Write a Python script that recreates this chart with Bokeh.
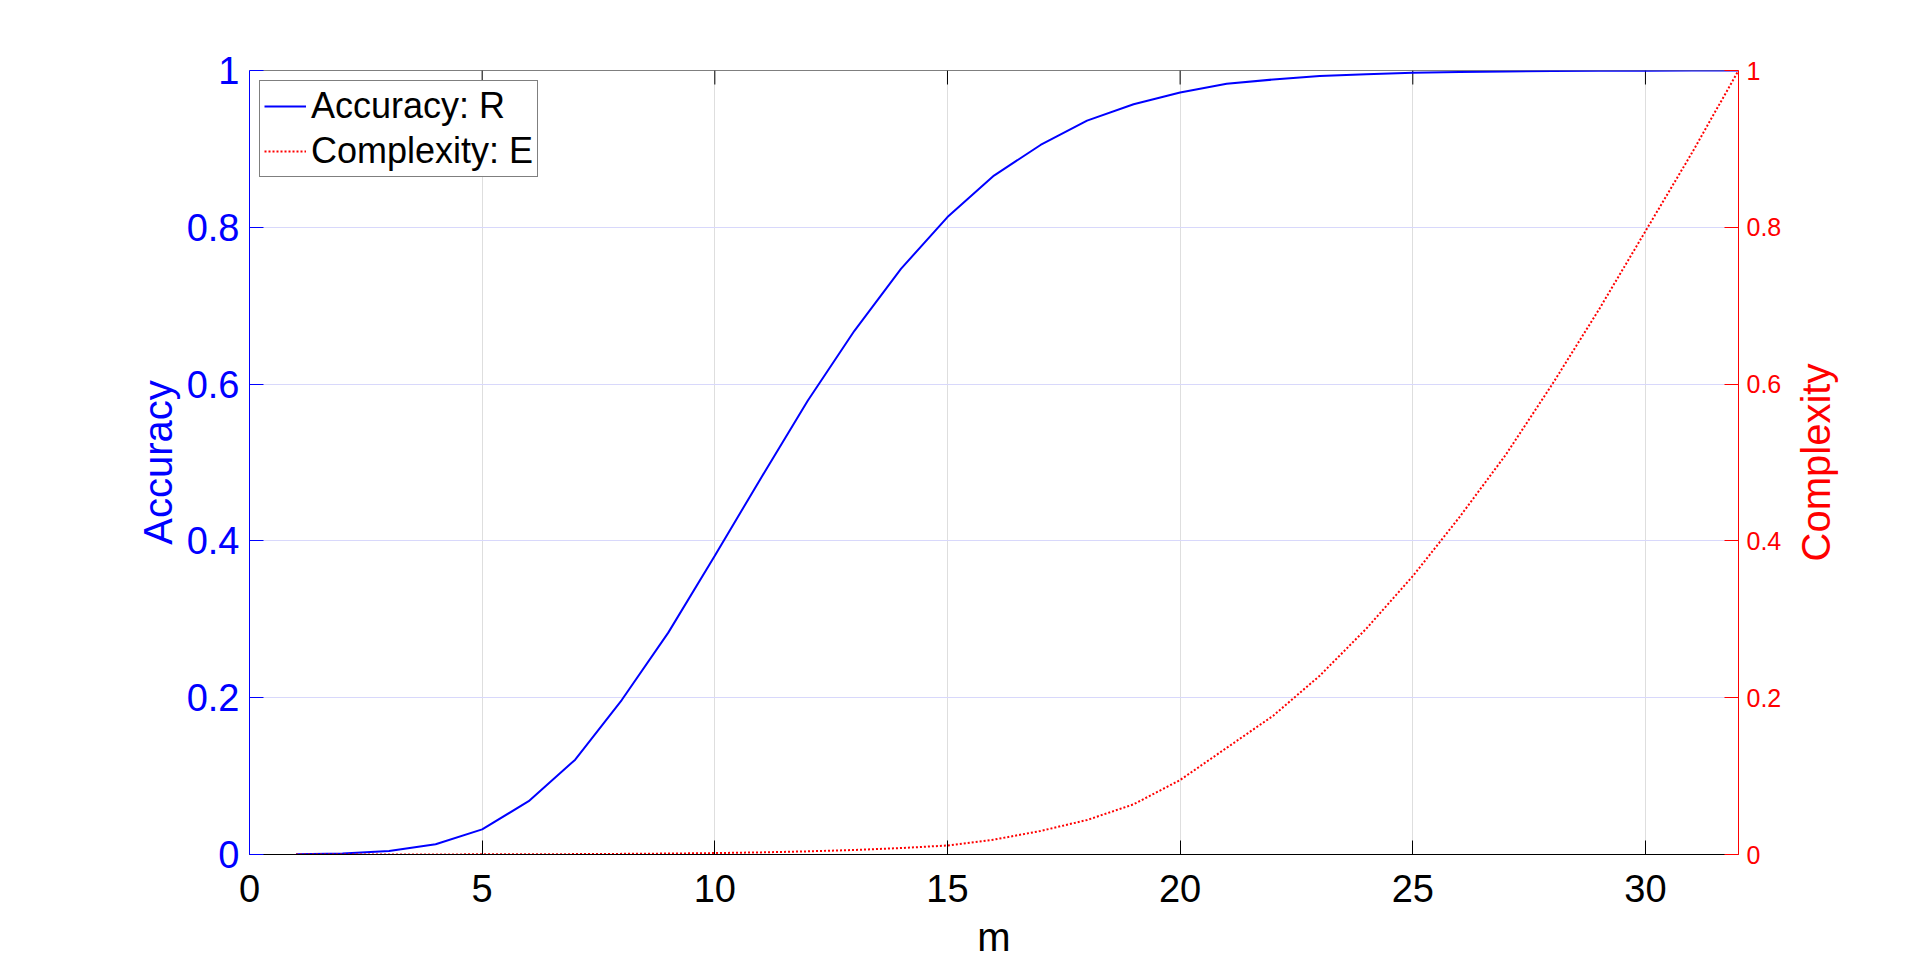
import math
from bokeh.plotting import figure
from bokeh.layouts import row
from bokeh.models import LinearAxis, Range1d, FixedTicker, Legend, LegendItem, Span
from bokeh.core.properties import value
from bokeh.embed import file_html
from bokeh.resources import INLINE

# ---- data ----
m = list(range(1, 33))
accuracy = [0.0002, 0.0013, 0.0045, 0.013, 0.032, 0.068, 0.121, 0.197, 0.283, 0.381,
            0.481, 0.579, 0.668, 0.747, 0.813, 0.866, 0.905, 0.936, 0.957, 0.972,
            0.983, 0.9885, 0.993, 0.9953, 0.997, 0.998, 0.9988, 0.9993, 0.9996, 0.9998,
            0.9999, 1.0]
complexity = [0.0, 0.0, 0.0001, 0.0001, 0.0002, 0.0003, 0.0005, 0.0008, 0.0012, 0.0018,
              0.0027, 0.004, 0.0058, 0.0082, 0.0115, 0.019, 0.03, 0.044, 0.064, 0.095,
              0.136, 0.177, 0.228, 0.288, 0.355, 0.43, 0.51, 0.60, 0.695, 0.795,
              0.895, 1.0]
x_ticks = [0, 5, 10, 15, 20, 25, 30]
y_ticks = [0, 0.2, 0.4, 0.6, 0.8, 1]
y_tick_labels = {0: "0", 1: "1"}
series_names = ["Accuracy: R", "Complexity: E"]
x_label = "m"
left_label = "Accuracy"
right_label = "Complexity"

FONT = "Liberation Sans"
BLUE = "#0000ff"
RED = "#ff0000"

H = 962
TOP, BOTTOM = 70, 108
W_MAIN, W_SIDE = 1790, 130

p = figure(width=W_MAIN, height=H, x_range=Range1d(0, 32), y_range=Range1d(0, 1),
           output_backend="svg", toolbar_location=None,
           min_border_left=249, min_border_right=52, min_border_top=TOP, min_border_bottom=BOTTOM)
p.outline_line_color = None
p.background_fill_color = "white"
p.border_fill_color = "white"
p.extra_y_ranges = {"comp": Range1d(0, 1)}

# grids
p.xgrid.ticker = FixedTicker(ticks=x_ticks)
p.xgrid.grid_line_color = "#dedede"
p.xgrid.grid_line_width = 1
p.ygrid.ticker = FixedTicker(ticks=y_ticks)
p.ygrid.grid_line_color = "#d8d8fb"
p.ygrid.grid_line_width = 1

# top border of the box, with inward ticks
p.add_layout(Span(location=y_ticks[-1], dimension="width", line_color="black",
                  line_width=1, level="underlay"))
top_ticks = [t for t in x_ticks if t > 0]
p.ray(x=top_ticks, y=[y_ticks[-1]] * len(top_ticks), length=14, length_units="screen",
      angle=-math.pi / 2, line_color="black", line_width=1)

# bottom axis
xa = p.xaxis[0]
xa.ticker = FixedTicker(ticks=x_ticks)
xa.axis_line_color = "black"
xa.major_tick_line_color = "black"
xa.major_tick_in = 14
xa.major_tick_out = 0
xa.minor_tick_line_color = None
xa.major_label_text_font = FONT
xa.major_label_text_font_size = "38px"
xa.major_label_text_color = "black"
xa.major_label_standoff = 20
xa.axis_label = x_label
xa.axis_label_text_font = FONT
xa.axis_label_text_font_size = "40px"
xa.axis_label_text_font_style = "normal"
xa.axis_label_text_color = "black"
xa.axis_label_standoff = 10

# left axis
ya = p.yaxis[0]
ya.ticker = FixedTicker(ticks=y_ticks)
ya.major_label_overrides = y_tick_labels
ya.axis_line_color = BLUE
ya.major_tick_line_color = BLUE
ya.major_tick_in = 14
ya.major_tick_out = 0
ya.minor_tick_line_color = None
ya.major_label_text_font = FONT
ya.major_label_text_font_size = "38px"
ya.major_label_text_color = BLUE
ya.major_label_standoff = 10
ya.axis_label = left_label
ya.axis_label_text_font = FONT
ya.axis_label_text_font_size = "40px"
ya.axis_label_text_font_style = "normal"
ya.axis_label_text_color = BLUE
ya.axis_label_standoff = 4

# right axis
ra = LinearAxis(y_range_name="comp", ticker=FixedTicker(ticks=y_ticks))
ra.major_label_overrides = y_tick_labels
ra.axis_line_color = RED
ra.major_tick_line_color = RED
ra.major_tick_in = 14
ra.major_tick_out = 0
ra.minor_tick_line_color = None
ra.major_label_text_font = FONT
ra.major_label_text_font_size = "25px"
ra.major_label_text_color = RED
ra.major_label_standoff = 8
p.add_layout(ra, "right")

# lines
r1 = p.line(m, accuracy, line_color=BLUE, line_width=2)
r2 = p.line(m, complexity, line_color=RED, line_width=2, line_dash="2 2", y_range_name="comp")

legend = Legend(items=[LegendItem(label=series_names[0], renderers=[r1]),
                       LegendItem(label=series_names[1], renderers=[r2])],
                location="top_left")
legend.margin = 10
legend.padding = 4
legend.spacing = 3
legend.glyph_width = 42
legend.glyph_height = 40
legend.label_standoff = 5
legend.label_text_font = FONT
legend.label_text_font_size = "36px"
legend.label_text_color = "black"
legend.border_line_color = "black"
legend.border_line_width = 1
legend.background_fill_color = "white"
legend.background_fill_alpha = 1
p.add_layout(legend)

# side panel carrying the right-hand axis title (reads bottom to top, like the left one)
side = figure(width=W_SIDE, height=H, x_range=Range1d(0, W_SIDE), y_range=Range1d(0, 1),
              output_backend="svg", toolbar_location=None,
              x_axis_location=None, y_axis_location=None,
              min_border_left=0, min_border_right=0, min_border_top=TOP, min_border_bottom=BOTTOM)
side.outline_line_color = None
side.xgrid.visible = False
side.ygrid.visible = False
side.background_fill_color = "white"
side.border_fill_color = "white"
side.text(x=[25], y=[0.5], text=[right_label], angle=math.pi / 2,
          text_align="center", text_baseline="middle",
          text_font=value(FONT), text_font_size="40px", text_color=RED)

layout = row(p, side)
open("out.html", "w").write(file_html(layout, INLINE))
